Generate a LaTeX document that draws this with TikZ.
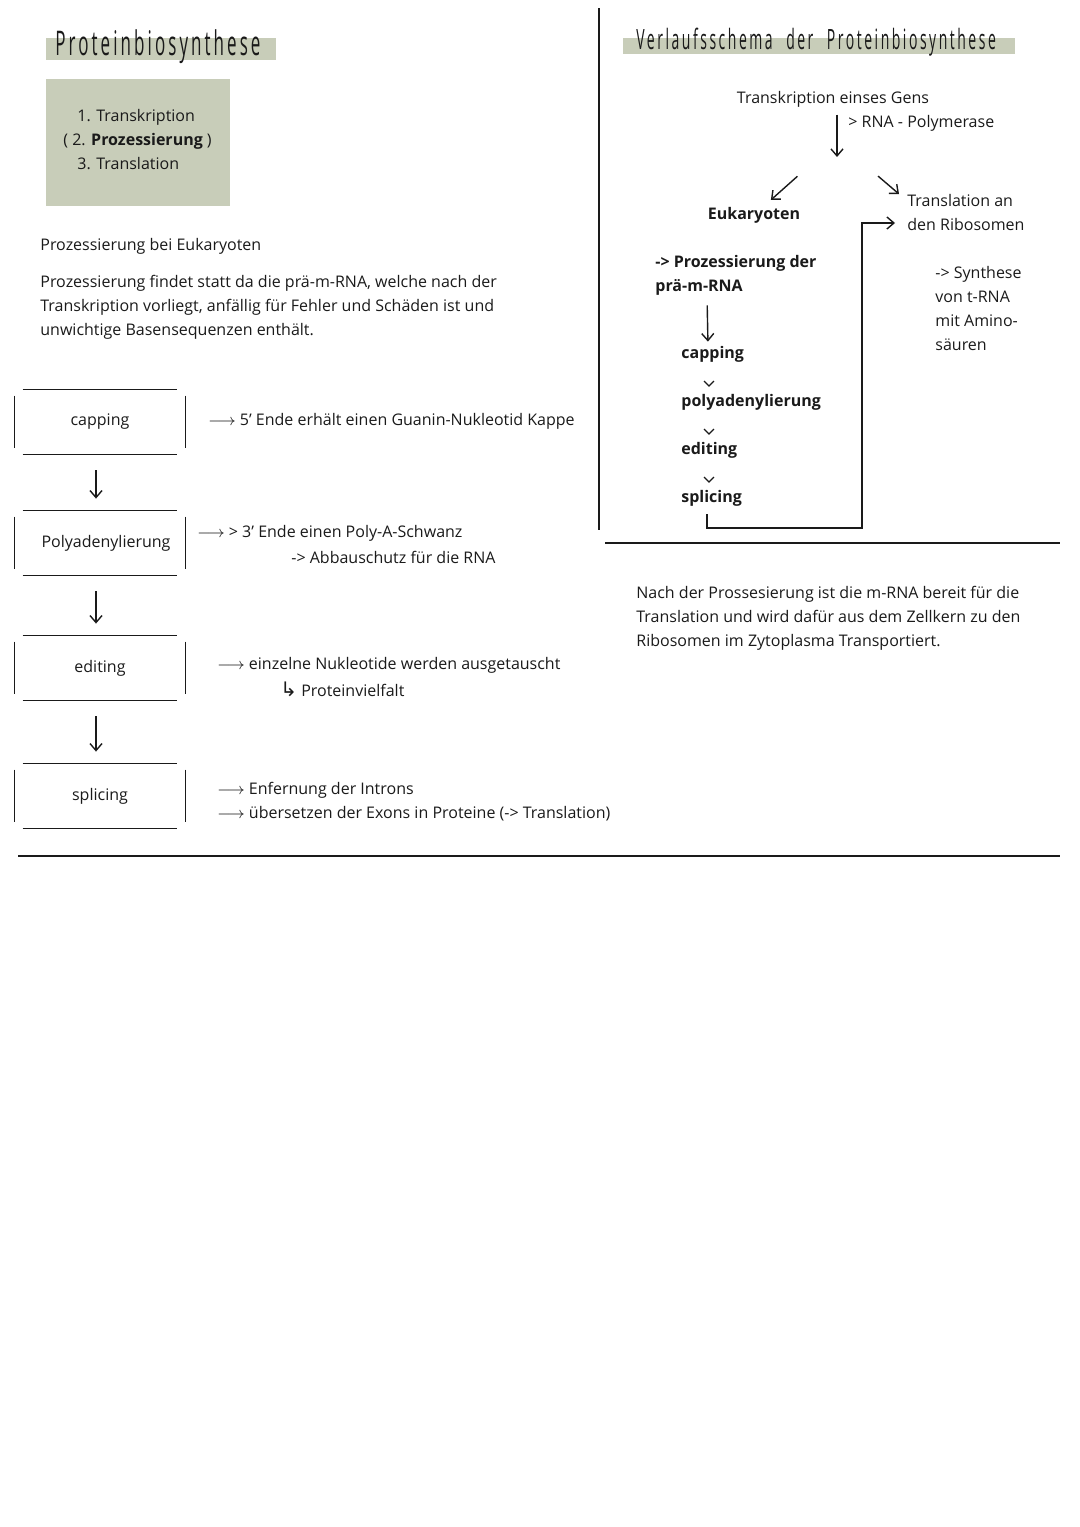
\documentclass[tikz,border=0pt]{standalone}
\usepackage{fontspec}
\setmainfont{Open Sans}
\newfontfamily\headfont[FakeStretch=0.5,LetterSpace=9,WordSpace=2.2]{Open Sans}
\newfontfamily\symfont{DejaVu Sans}
\usetikzlibrary{arrows.meta,positioning}
\definecolor{sage}{HTML}{C8CDB9}
\definecolor{ink}{HTML}{1A1A1A}

\begin{document}
\begin{tikzpicture}[
  x=0.5pt,
  y=-0.5pt,
  every node/.style={font=\fontsize{8}{12}\selectfont, text=ink, inner sep=0pt},
  >={Straight Barb[length=3.5pt,width=6pt]},
  rule/.style={ink, line width=0.8pt},
  flow/.style={ink, line width=0.7pt, ->},
  stepbox/.style={minimum width=85pt, minimum height=32pt},
  note/.style={anchor=west, align=left},
  strong/.style={font=\fontsize{8}{12}\selectfont\bfseries},
  heading/.style={anchor=west, font=\headfont\fontsize{17}{17}\selectfont}
]
  \useasboundingbox (0,0) rectangle (1080,1527);

  % ---- left column: title, overview box, intro -------------------------
  \fill[sage] (46,38) rectangle (276,60);
  \node[heading] (title) at (55,47) {Proteinbiosynthese};

  \fill[sage] (46,79) rectangle (230,206);
  \node[note] (steps) at (63,140)
    {\hspace*{7pt}1. Transkription\\( 2. \textbf{Prozessierung} )\\\hspace*{7pt}3. Translation};

  \node[note] (intro) at (40,246) {Prozessierung bei Eukaryoten};
  \node[note] (why) at (40,307)
    {Prozessierung findet statt da die prä-m-RNA, welche nach der\\
     Transkription vorliegt, anfällig für Fehler und Schäden ist und\\
     unwichtige Basensequenzen enthält.};

  % ---- the four processing steps -----------------------------------------
  \node[stepbox] (cap)  at (100,422) {capping};
  \node[stepbox] (poly) at (100,543) {\hspace*{6pt}Polyadenylierung};
  \node[stepbox] (edit) at (100,668) {editing};
  \node[stepbox] (spl)  at (100,796) {splicing};

  \foreach \b in {cap,poly,edit,spl} {
    \draw[rule] ([xshift=4pt]\b.north west) -- ([xshift=-4pt]\b.north east);
    \draw[rule] ([xshift=4pt]\b.south west) -- ([xshift=-4pt]\b.south east);
    \draw[rule] ([yshift=-3pt]\b.north west) -- ([yshift=3pt]\b.south west);
    \draw[rule] ([yshift=-3pt]\b.north east) -- ([yshift=3pt]\b.south east);
  }

  \foreach \a/\b in {cap/poly, poly/edit, edit/spl}
    \draw[flow, shorten <=8pt, shorten >=6pt] ([xshift=-2pt]\a.south) -- ([xshift=-2pt]\b.north);

  \node[note] (capnote) at (208,421) {$\longrightarrow$ 5' Ende erhält einen Guanin-Nukleotid Kappe};
  \node[note] (polynote) at (197,533) {$\longrightarrow$ > 3' Ende einen Poly-A-Schwanz};
  \node[note] (polynote2) at (291,557) {-> Abbauschutz für die RNA};
  \node[note] (editnote) at (217,665) {$\longrightarrow$ einzelne Nukleotide werden ausgetauscht};
  \node[note] (vielfalt) at (280,689) {{\symfont\fontsize{10}{12}\selectfont ↳} Proteinvielfalt};
  \node[note] (splnote) at (217,802)
    {$\longrightarrow$ Enfernung der Introns\\$\longrightarrow$ übersetzen der Exons in Proteine (-> Translation)};

  % ---- right column: flow scheme -----------------------------------------
  \fill[sage] (623,38) rectangle (1015,54);
  \node[heading, font=\headfont\fontsize{14}{14}\selectfont] (scheme) at (636,42)
    {Verlaufsschema der Proteinbiosynthese};

  \node (trans) at (833,99) {Transkription einses Gens};
  \node[note] (pol) at (848,123) {> RNA - Polymerase};
  \node[strong] (euk) at (754,215) {Eukaryoten};
  \node[note] (transl) at (907,212) {Translation an\\den Ribosomen};
  \node[note, strong] (proz) at (655,275) {-> Prozessierung der\\prä-m-RNA};
  \node[note, strong] (cap2)  at (681,354) {capping};
  \node[note, strong] (poly2) at (681,402) {polyadenylierung};
  \node[note, strong] (edit2) at (681,450) {editing};
  \node[note, strong] (spl2)  at (681,498) {splicing};
  \node[note] (synth) at (935,308) {-> Synthese\\von t-RNA\\mit Amino-\\säuren};

  \coordinate (split) at (837,141);
  \coordinate (tdown) at (837,157);
  \coordinate (seend) at (899,194);
  \coordinate (bend) at (862,528);

  \draw[flow] (pol.north -| tdown) -- (tdown);
  \draw[flow, shorten <=26.5pt, shorten >=5pt] (split) -- (euk);
  \draw[flow, shorten <=27pt] (split) -- (seend);
  \draw[flow, shorten <=5pt, shorten >=2pt] ([xshift=26pt]proz.south west) -- ([xshift=13.5pt]cap2.north west);

  \foreach \a/\b in {cap2/poly2, poly2/edit2, edit2/spl2} {
    \path (\a.south west) -- (\b.north west) coordinate[pos=0.5] (m);
    \draw[ink, line width=0.6pt] ([shift={(23,3)}]m) -- ([shift={(28,8)}]m) -- ([shift={(33,3)}]m);
  }

  \draw[flow, shorten <=4pt, shorten >=6pt] ([xshift=13pt]spl2.south west) |- (bend) |- ([yshift=-5.5pt]transl.west);

  % ---- dividers and closing note -----------------------------------------
  \draw[rule] (599,8) -- (599,530);
  \draw[rule] (605,543) -- (1060,543);
  \draw[rule] (18,856) -- (1060,856);

  \node[note] (after) at (636,618)
    {Nach der Prossesierung ist die m-RNA bereit für die\\
     Translation und wird dafür aus dem Zellkern zu den\\
     Ribosomen im Zytoplasma Transportiert.};
\end{tikzpicture}
\end{document}
